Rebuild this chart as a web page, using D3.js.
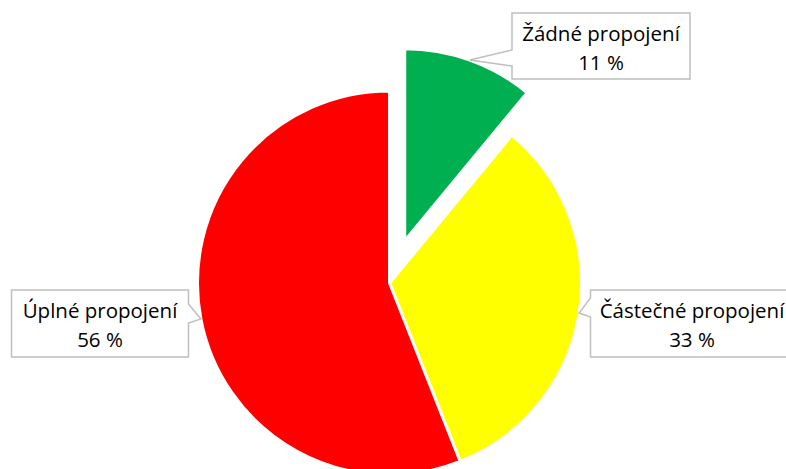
<!DOCTYPE html>
<html>
<head>
<meta charset="utf-8">
<script src="https://cdn.jsdelivr.net/npm/d3@7"></script>
<style>
  body { margin: 0; background: #fff; }
  svg { display: block; }
</style>
</head>
<body>
<svg width="786" height="469"></svg>
<script>
// chart data
var categories = ["Žádné propojení", "Částečné propojení", "Úplné propojení"];
var values = [11, 33, 56];
var colors = ["#00b050", "#ffff00", "#ff0000"];

var svg = d3.select("svg");

// pie geometry
var cx = 389.5, cy = 283, radius = 192;
var explode = [45, 0, 0];

// callout boxes (x, y, w, h) and pointer base relative to tip y
var boxes = [
    { x: 512, y: 13, w: 178, h: 66, side: "left", b0: -10, b1: 6 },
    { x: 590.5, y: 290, w: 203, h: 67, side: "left", b0: -15, b1: 4 },
    { x: 11.5, y: 290, w: 177, h: 67, side: "right", b0: -15, b1: 4 }
];

var pie = d3.pie().sort(null).value(function (d) { return d; });
var arcs = pie(values);

var arc = d3.arc().innerRadius(0).outerRadius(radius);
var edge = d3.arc().innerRadius(radius).outerRadius(radius);

var g = svg.append("g").attr("transform", "translate(" + cx + "," + cy + ")");

function shift(d, i) {
    var c = d3.arc().innerRadius(1).outerRadius(1).centroid(d);
    return [c[0] * explode[i], c[1] * explode[i]];
}

g.selectAll(".slice")
    .data(arcs)
    .enter().append("path")
    .attr("class", "slice")
    .attr("d", arc)
    .attr("transform", function (d, i) {
        var s = shift(d, i);
        return "translate(" + s[0] + "," + s[1] + ")";
    })
    .attr("fill", function (d, i) { return colors[i]; })
    .attr("stroke", "#fff")
    .attr("stroke-width", 3)
    .attr("stroke-linejoin", "round");

// labels
var labels = svg.selectAll(".label")
    .data(arcs)
    .enter().append("g")
    .attr("class", "label");

labels.append("path")
    .attr("d", function (d, i) {
        var b = boxes[i];
        var s = shift(d, i);
        var p = edge.centroid(d);
        var tx = cx + p[0] + s[0], ty = cy + p[1] + s[1];
        var y0 = ty + b.b0, y1 = ty + b.b1;
        if (b.side == "left") {
            return "M" + b.x + "," + b.y + "H" + (b.x + b.w) + "V" + (b.y + b.h) + "H" + b.x +
                "V" + y1 + "L" + tx + "," + ty + "L" + b.x + "," + y0 + "Z";
        }
        var r = b.x + b.w;
        return "M" + b.x + "," + b.y + "H" + r + "V" + y0 + "L" + tx + "," + ty + "L" + r + "," + y1 +
            "V" + (b.y + b.h) + "H" + b.x + "Z";
    })
    .attr("fill", "#fff")
    .attr("stroke", "#bfbfbf")
    .attr("stroke-width", 1.5);

labels.append("text")
    .attr("x", function (d, i) { return boxes[i].x + boxes[i].w / 2; })
    .attr("y", function (d, i) { return boxes[i].y + 28; })
    .attr("text-anchor", "middle")
    .style("font-family", "'Open Sans', sans-serif")
    .style("font-size", "20.5px")
    .attr("fill", "#000")
    .text(function (d, i) { return categories[i]; });

labels.append("text")
    .attr("x", function (d, i) { return boxes[i].x + boxes[i].w / 2; })
    .attr("y", function (d, i) { return boxes[i].y + 57; })
    .attr("text-anchor", "middle")
    .style("font-family", "'Open Sans', sans-serif")
    .style("font-size", "20.5px")
    .attr("fill", "#000")
    .text(function (d) { return d.value + " %"; });
</script>
</body>
</html>
